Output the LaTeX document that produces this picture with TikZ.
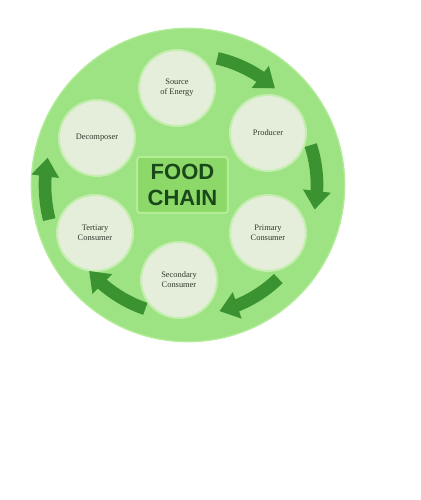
\documentclass[tikz,border=0pt]{standalone}
\usepackage{fontspec}
\setmainfont{Liberation Serif}
\newfontfamily\titlefont{Liberation Sans}
\usetikzlibrary{arrows.meta,calc,bending}
\definecolor{plate}{HTML}{9DE283}
\definecolor{plateedge}{HTML}{B2EC98}
\definecolor{disc}{HTML}{E4EEDA}
\definecolor{discedge}{HTML}{C4EEAE}
\definecolor{arrowgreen}{HTML}{3A9230}
\definecolor{boxfill}{HTML}{8CD96A}
\definecolor{boxedge}{HTML}{B4EE96}
\definecolor{titlegreen}{HTML}{1A481A}
\definecolor{labelgray}{HTML}{2F3A2F}
\tikzset{
  stage/.style={circle, fill=disc, draw=discedge, line width=1.5pt, minimum size=57pt,
    inner sep=0pt, align=center, font=\fontsize{6.3}{7.5}\selectfont, text=labelgray},
  cyclearrow/.style={draw=arrowgreen, line width=9.5pt,
    -{Triangle[length=14pt,width=20pt,flex]}, color=arrowgreen}
}
\begin{document}
\begin{tikzpicture}[x=0.75pt,y=0.75pt]
\useasboundingbox (0,0) rectangle (421,500);
\fill[white] (0,0) rectangle (421,500);
\coordinate (C) at (188,315);
\node[circle, fill=plate, draw=plateedge, line width=1pt, minimum size=235pt, inner sep=0pt] (plate) at (C) {};
\node[fill=boxfill, draw=boxedge, line width=1.5pt, rounded corners=2pt, minimum width=68pt, minimum height=42pt,
  align=center, text=titlegreen, font=\titlefont\bfseries\fontsize{16.5}{19}\selectfont] (title) at (182.5,315) {FOOD\\CHAIN};
\node[stage] (source) at (177,412) {Source\\of Energy};
\node[stage] (producer) at (268,367) {Producer};
\node[stage] (primary) at (268,267) {Primary\\Consumer};
\node[stage] (secondary) at (179,220) {Secondary\\Consumer};
\node[stage] (tertiary) at (95,267) {Tertiary\\Consumer};
\node[stage] (decomposer) at (97,362) {Decomposer};
\coordinate (a1) at ($(C)+(77:130)$);
\coordinate (a2) at ($(C)+(18:129)$);
\coordinate (a3) at ($(C)+(-46:130)$);
\coordinate (a4) at ($(C)+(-109:131)$);
\coordinate (a5) at ($(C)+(-166:143)$);
\draw[cyclearrow] (a1) arc[start angle=77, end angle=48, radius=130];
\draw[cyclearrow] (a2) arc[start angle=18, end angle=-11, radius=129];
\draw[cyclearrow] (a3) arc[start angle=-46, end angle=-76, radius=130];
\draw[cyclearrow] (a4) arc[start angle=-109, end angle=-139, radius=131];
\draw[cyclearrow] (a5) arc[start angle=-166, end angle=-191, radius=143];
\end{tikzpicture}
\end{document}
